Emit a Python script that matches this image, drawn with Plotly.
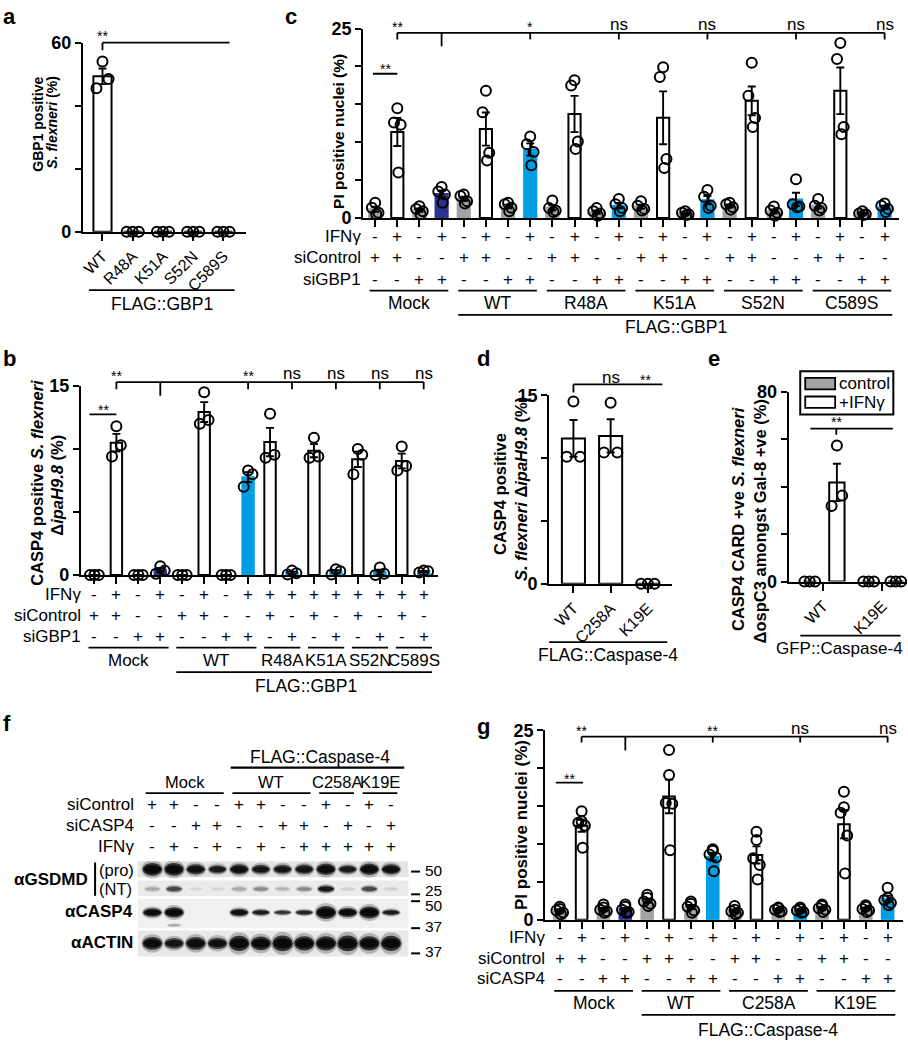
import numpy as np
import plotly.graph_objects as go

W, H = 908, 1050
FONT = "Liberation Sans, Arial, Helvetica, sans-serif"
GREY = "#a3a3a3"
DBLUE = "#2d3192"
LBLUE = "#009fe3"

# ---------------- data ----------------
# panel a
a_cats = ["WT", "R48A", "K51A", "S52N", "C589S"]
a_vals = [[54.0, 48.5, 45.5], [0, 0, 0], [0, 0, 0], [0, 0, 0], [0, 0, 0]]

# panel c
c_groups = ["Mock", "WT", "R48A", "K51A", "S52N", "C589S"]
c_group_sizes = [4, 4, 4, 4, 4, 4]
c_ifn = list("-+-+-+-+-+-+-+-+-+-+-+-+")
c_sictrl = list("++--++--++--++--++--++--")
c_sigbp1 = list("--++--++--++--++--++--++")
c_vals = [
    [2.0, 1.35, 0.7, 0.5], [14.5, 12.6, 12.3, 6.0], [1.55, 1.2, 0.9, 0.5], [4.1, 3.5, 3.1, 2.0],
    [3.1, 2.9, 2.2, 1.9], [16.8, 13.95, 8.6, 7.6], [2.0, 1.8, 1.35, 0.9], [10.75, 9.75, 8.7, 6.95],
    [2.3, 1.3, 1.0, 0.8], [18.2, 17.5, 10.1, 9.1], [1.3, 0.9, 0.6, 0.3], [2.5, 1.8, 1.3, 0.9],
    [2.2, 1.6, 1.2, 1.0], [19.9, 18.6, 7.8, 6.6], [0.9, 0.7, 0.5, 0.4], [3.7, 2.8, 1.6, 1.3],
    [2.0, 1.8, 1.4, 1.1], [20.5, 16.15, 13.2, 12.0], [1.5, 1.0, 0.7, 0.3], [5.1, 1.8, 1.5, 1.4],
    [2.5, 1.6, 1.3, 1.0], [23.1, 21.0, 12.0, 11.05], [0.9, 0.6, 0.5, 0.4], [1.9, 1.6, 1.2, 0.8],
]
c_sig = [(1, "**"), (7, "*"), (11, "ns"), (15, "ns"), (19, "ns"), (23, "ns")]

# panel b
b_groups = ["Mock", "WT", "R48A", "K51A", "S52N", "C589S"]
b_group_sizes = [4, 4, 2, 2, 2, 2]
b_ifn = list("-+-+-+-+++++++++")
b_sictrl = list("++--++--+-+-+-+-")
b_sigbp1 = list("--++--++-+-+-+-+")
b_vals = [
    [0, 0, 0], [11.8, 10.3, 9.4], [0, 0, 0], [0.7, 0.35, 0.1],
    [0, 0, 0], [14.5, 12.3, 12.0], [0, 0, 0], [8.3, 8.0, 7.0],
    [12.8, 9.55, 9.3], [0.35, 0.15, 0.05], [10.9, 9.4, 9.3], [0.45, 0.3, 0.05],
    [10.0, 9.55, 8.0], [0.6, 0.1, 0.0], [10.2, 8.65, 8.3], [0.35, 0.3, 0.2],
]
b_sig = [(1, "**"), (7, "**"), (9, "ns"), (11, "ns"), (13, "ns"), (15, "ns")]

# panel d
d_cats = ["WT", "C258A", "K19E"]
d_vals = [[14.5, 10.1, 10.1], [14.4, 10.45, 10.45], [0, 0, 0]]

# panel e
e_cats = ["WT", "K19E"]
e_series = ["control", "+IFNγ"]
e_control = [[0, 0, 0], [0, 0, 0]]
e_ifn = [[57.3, 36.2, 31.8], [0, 0, 0]]

# panel g
g_groups = ["Mock", "WT", "C258A", "K19E"]
g_group_sizes = [4, 4, 4, 4]
g_ifn = list("-+-+-+-+-+-+-+-+")
g_sictrl = list("++--++--++--++--")
g_sicasp4 = list("--++--++--++--++")
g_vals = [
    [1.7, 1.4, 1.2, 0.95, 0.7], [14.3, 13.0, 12.8, 12.4, 9.5], [2.0, 1.6, 1.3, 1.1, 0.9], [2.0, 1.7, 1.3, 1.0, 0.9],
    [3.3, 2.9, 2.4, 2.1, 1.8], [22.4, 19.1, 15.4, 15.3, 9.15], [2.4, 2.1, 1.7, 1.2, 0.9], [9.3, 9.1, 8.6, 8.2, 6.4],
    [1.8, 1.3, 1.1, 0.9, 0.7], [11.6, 10.5, 8.1, 7.2, 5.3], [1.6, 1.5, 1.3, 1.1, 1.0], [1.6, 1.4, 1.2, 1.0, 0.9],
    [2.0, 1.8, 1.5, 1.3, 1.0], [16.9, 14.85, 14.1, 11.1, 6.1], [1.9, 1.7, 1.4, 1.2, 1.0], [4.2, 2.9, 2.6, 2.2, 1.9],
]
g_sig = [(1, "**"), (7, "**"), (11, "ns"), (15, "ns")]

# panel f (western blot)
f_sictrl = list("++--++--+-+-")
f_sicasp4 = list("--++--++-+-+")
f_ifn = list("-+-+-+-+++++")
f_groups = ["Mock", "WT", "C258A", "K19E"]
f_group_sizes = [4, 4, 2, 2]
f_pro = [1.0, 1.0, 0.9, 0.8, 0.9, 0.85, 0.85, 0.85, 0.95, 0.8, 0.95, 0.9]
f_pro_size = [1.0, 1.0, 0.8, 0.65, 0.8, 0.7, 0.7, 0.75, 0.9, 0.65, 0.9, 0.8]
f_nt = [0.15, 0.5, 0.04, 0.04, 0.15, 0.25, 0.12, 0.25, 0.8, 0.06, 0.5, 0.06]
f_nt_size = [0.7, 0.8, 0.5, 0.5, 0.7, 0.7, 0.6, 0.7, 0.9, 0.5, 0.8, 0.5]
f_casp4 = [0.95, 1.0, 0, 0, 0.9, 0.75, 0.6, 0.7, 1.0, 0.95, 1.0, 0.75]
f_casp4_size = [0.8, 0.95, 0, 0, 0.7, 0.55, 0.45, 0.5, 1.2, 0.85, 1.1, 0.55]
f_actin = [0.95, 0.85, 0.95, 0.9, 1, 1, 1, 1, 1, 1, 1, 1]
f_actin_size = [0.85, 0.7, 0.85, 0.75, 1.0, 0.9, 1.05, 0.95, 0.95, 1.05, 0.95, 1.0]
f_marker_labels = ["50", "25", "50", "37", "37"]

# ---------------- helpers ----------------
fig = go.Figure()


def sfx(k):
    return "" if k == 1 else str(k)


def fx(p):
    return p / W


def fy(p):
    return 1 - p / H


def add_axes(k, xd, yd, xr, yr, ytv=None, ytt=None, xtv=None, xtt=None, yfs=18, xfs=16, show=True):
    s = sfx(k)
    fig.update_layout(**{
        f"xaxis{s}": dict(domain=[fx(xd[0]), fx(xd[1])], range=xr, anchor=f"y{s}",
                          showline=show, linecolor="black", linewidth=2,
                          ticks="outside" if show else "", ticklen=7, tickwidth=2, tickcolor="black",
                          tickmode="array", tickvals=xtv if xtv is not None else [], ticktext=xtt,
                          showticklabels=xtt is not None, tickangle=-45,
                          tickfont=dict(family=FONT, size=xfs, color="black"),
                          showgrid=False, zeroline=False, fixedrange=True),
        f"yaxis{s}": dict(domain=[fy(yd[1]), fy(yd[0])], range=yr, anchor=f"x{s}",
                          showline=show, linecolor="black", linewidth=2,
                          ticks="outside" if show else "", ticklen=6, tickwidth=2, tickcolor="black",
                          tickmode="array", tickvals=ytv if ytv is not None else [], ticktext=ytt,
                          showticklabels=show,
                          tickfont=dict(family=FONT, size=yfs, color="black", weight="bold"),
                          showgrid=False, zeroline=False, fixedrange=True),
    })


JIT = {3: [0.0, 0.2, -0.2], 4: [0.0, -0.15, 0.15, 0.05], 5: [0.0, 0.0, -0.15, 0.15, 0.05]}


def bar_panel(k, xs, vals, fills, width, jscale=1.0):
    s = sfx(k)
    means = [float(np.mean(v)) for v in vals]
    sems = [float(np.std(v, ddof=1) / np.sqrt(len(v))) for v in vals]
    lines = ["black" if f == "white" else f for f in fills]
    fig.add_trace(go.Bar(x=xs, y=means, width=width,
                         marker=dict(color=fills, line=dict(color=lines, width=2)),
                         error_y=dict(type="data", array=sems, visible=True, color="black",
                                      thickness=1.9, width=4),
                         xaxis=f"x{s}", yaxis=f"y{s}", showlegend=False, hoverinfo="skip"))
    pxs, pys = [], []
    for x, v in zip(xs, vals):
        jj = JIT[len(v)]
        for i, val in enumerate(v):
            pxs.append(x + jj[i] * jscale)
            pys.append(val)
    fig.add_trace(go.Scatter(x=pxs, y=pys, mode="markers",
                             marker=dict(symbol="circle-open", size=10, color="black", line=dict(width=2)),
                             cliponaxis=False, xaxis=f"x{s}", yaxis=f"y{s}",
                             showlegend=False, hoverinfo="skip"))


def T(text, x, y, size=16, bold=False, xanchor="center", yanchor="middle", xref="paper", yref="paper", angle=0):
    if xref == "paper":
        x = fx(x)
    if yref == "paper":
        y = fy(y)
    fig.add_annotation(text=f"<b>{text}</b>" if bold else text, x=x, y=y, xref=xref, yref=yref,
                       showarrow=False, xanchor=xanchor, yanchor=yanchor, textangle=angle,
                       borderpad=0, font=dict(family=FONT, size=size, color="black"))


def L(x0, y0, x1, y1, xref="paper", yref="paper", w=1.8):
    if xref == "paper":
        x0, x1 = fx(x0), fx(x1)
    if yref == "paper":
        y0, y1 = fy(y0), fy(y1)
    fig.add_shape(type="line", x0=x0, y0=y0, x1=x1, y1=y1, xref=xref, yref=yref,
                  line=dict(color="black", width=w))


def R(x0, y0, x1, y1, fill, lw=1.8, lc="black", xref="paper", yref="paper"):
    if xref == "paper":
        x0, x1 = fx(x0), fx(x1)
    if yref == "paper":
        y0, y1 = fy(y0), fy(y1)
    fig.add_shape(type="rect", x0=x0, y0=y0, x1=x1, y1=y1, xref=xref, yref=yref,
                  fillcolor=fill, line=dict(color=lc, width=lw))


def cond_fills(ifn, kd, sizes):
    grp = []
    for gi, n in enumerate(sizes):
        grp += [gi] * n
    out = []
    for i, (a, b) in enumerate(zip(ifn, kd)):
        if a == "-":
            out.append(GREY)
        elif b == "-":
            out.append("white")
        else:
            out.append(DBLUE if grp[i] == 0 else LBLUE)
    return out


def sign_rows(k, rows, ys, names, label_x, size=17, name_size=17):
    xa = f"x{sfx(k)}"
    for row, y, name in zip(rows, ys, names):
        T(name, label_x, y, size=name_size, xanchor="right")
        for i, sgn in enumerate(row):
            T(sgn, i, y, size=size, xref=xa)


def group_lines(k, groups, sizes, y_line, y_text, lo=0.25, hi=0.35, size=17.5):
    xa = f"x{sfx(k)}"
    start = 0
    spans = []
    for gname, n in zip(groups, sizes):
        a, b = start - lo, start + n - 1 + hi
        L(a, y_line, b, y_line, xref=xa)
        T(gname, (a + b) / 2, y_text, size=size, xref=xa)
        spans.append((a, b))
        start += n
    return spans


def brackets(k, sig, ref, y_line, y_tick, y_ref_tick, y_text_star, y_text_ns, x_end):
    xa = f"x{sfx(k)}"
    first = sig[0][0]
    L(first, y_line, x_end, y_line, xref=xa)
    L(ref, y_line, ref, y_ref_tick, xref=xa)
    for i, lab in sig:
        L(i, y_line, i, y_tick, xref=xa)
        T(lab, i, y_text_ns if lab == "ns" else y_text_star, size=17 if lab == "ns" else 14, xref=xa)


# ---------------- panel a ----------------
add_axes(1, (81, 245), (33.3, 226), [-0.65, 4.76], [0, 60], [0, 20, 40, 60], ["0", "", "", "60"],
         list(range(5)), a_cats)
bar_panel(1, list(range(5)), a_vals, ["white"] * 5, 0.6)
T("<b>GBP1 positive</b>", 36, 116, size=14, angle=-90)
T("<b><i>S. flexneri</i> (%)</b>", 50, 114, size=14, angle=-90)
L(0, 33.3, 4.2, 33.3, xref="x")
L(0, 33.3, 0, 41, xref="x")
T("**", 0, 27, size=14, xref="x")
L(-0.45, 285.5, 4.37, 285.5, xref="x")
T("FLAG::GBP1", 160, 299.5, size=17.5)
T("<b>a</b>", 0, 7, size=22, xanchor="left")

# ---------------- panel c ----------------
add_axes(2, (362, 899), (19, 212), [-0.54, 23.65], [0, 25], [0, 5, 10, 15, 20, 25],
         ["0", "", "", "", "", "25"], list(range(24)), None)
bar_panel(2, list(range(24)), c_vals, cond_fills(c_ifn, c_sigbp1, c_group_sizes), 0.55, jscale=1.0)
T("<b>PI positive nuclei (%)</b>", 337, 124, size=15.5, angle=-90)
brackets(2, c_sig, 3, 23.3, 30, 37, 17, 15, 23)
L(-0.1, 65, 1, 65, xref="x2")
T("**", 0.45, 60, size=14, xref="x2")
sign_rows(2, [c_ifn, c_sictrl, c_sigbp1], [231, 252.3, 274.5], ["IFNγ", "siControl", "siGBP1"], 361)
sp = group_lines(2, c_groups, c_group_sizes, 286, 298.5, lo=0.25, hi=0.3)
L(sp[1][0], 310.7, 23.35, 310.7, xref="x2")
T("FLAG::GBP1", 675, 323.5, size=17.5)
T("<b>c</b>", 283, 7, size=22, xanchor="left")

# ---------------- panel b ----------------
add_axes(3, (79, 436.7), (383.3, 576), [-0.62, 15.64], [0, 15], [0, 5, 10, 15], ["0", "", "", "15"],
         list(range(16)), None)
bar_panel(3, list(range(16)), b_vals, cond_fills(b_ifn, b_sigbp1, b_group_sizes), 0.52)
T("<b>CASP4 positive <i>S. flexneri</i></b>", 35, 482, size=16.5, angle=-90)
T("<b>Δ<i>ipaH9.8</i> (%)</b>", 55, 484, size=16.5, angle=-90)
brackets(3, b_sig, 3, 379.3, 386.7, 393.3, 373.5, 371, 15)
L(-0.23, 412.3, 1, 412.3, xref="x3")
T("**", 0.4, 407.5, size=14, xref="x3")
sign_rows(3, [b_ifn, b_sictrl, b_sigbp1], [596, 617.7, 638.3], ["IFNγ", "siControl", "siGBP1"], 80)
sp = group_lines(3, b_groups, b_group_sizes, 650, 663.3, lo=0.27, hi=0.38, size=17)
L(sp[1][0], 675, sp[-1][1], 675, xref="x3")
T("FLAG::GBP1", 305, 689, size=17.5)
T("<b>b</b>", 0, 355, size=22, xanchor="left")

# ---------------- panel d ----------------
add_axes(4, (548.3, 671.7), (392.7, 585), [-0.654, 2.655], [0, 15], [0, 5, 10, 15], ["0", "", "", "15"],
         list(range(3)), d_cats)
bar_panel(4, list(range(3)), d_vals, ["white"] * 3, 0.62, jscale=0.9)
T("<b>CASP4 positive</b>", 498.5, 493, size=16.5, angle=-90)
T("<b><i>S. flexneri</i> Δ<i>ipaH9.8</i> (%)</b>", 519.5, 488, size=16.5, angle=-90)
L(0, 381.7, 2.39, 381.7, xref="x4")
L(0, 381.7, 0, 390, xref="x4")
T("ns", 1.02, 375, size=17, xref="x4")
T("**", 1.94, 377.5, size=14, xref="x4")
L(-0.67, 644.3, 2.52, 644.3, xref="x4")
T("FLAG::Caspase-4", 607, 657.5, size=17.5)
T("<b>d</b>", 475, 355, size=22, xanchor="left")

# ---------------- panel e ----------------
add_axes(5, (788.3, 907), (389, 582.7), [-0.59, 1.42], [0, 80], [0, 20, 40, 60, 80], ["0", "", "", "", "80"],
         [0, 1], e_cats)
e_x, e_v, e_f = [], [], []
for gi in range(len(e_cats)):
    e_x += [gi - 0.23, gi + 0.23]
    e_v += [e_control[gi], e_ifn[gi]]
    e_f += [GREY, "white"]
bar_panel(5, e_x, e_v, e_f, 0.26, jscale=0.45)
T("<b>CASP4 CARD +ve <i>S. flexneri</i></b>", 737, 518.5, size=16.5, angle=-90)
T("<b>ΔospC3 amongst Gal-8 +ve (%)</b>", 760, 521, size=16.5, angle=-90)
L(-0.22, 426.7, 1.18, 426.7, xref="x5")
L(0.22, 426.7, 0.22, 433, xref="x5")
T("**", 0.22, 420.5, size=14, xref="x5")
L(-0.39, 637.7, 1.31, 637.7, xref="x5")
T("GFP::Caspase-4", 839, 650.5, size=17)
# legend
R(800, 368.3, 893.3, 412.3, "white", lw=2)
R(805, 375, 835, 386.7, GREY)
R(805, 394, 835, 405.7, "white")
T(e_series[0], 838, 381, size=17, xanchor="left")
T(e_series[1], 838, 400, size=17, xanchor="left")
T("<b>e</b>", 707, 355, size=22, xanchor="left")

# ---------------- panel g ----------------
add_axes(6, (544.3, 902.7), (734.3, 927.3), [-0.67, 15.69], [0, 25], [0, 5, 10, 15, 20, 25],
         ["0", "", "", "", "", "25"], list(range(16)), None)
bar_panel(6, list(range(16)), g_vals, cond_fills(g_ifn, g_sicasp4, g_group_sizes), 0.53)
T("<b>PI positive nuclei (%)</b>", 520, 831, size=17, angle=-90)
brackets(6, g_sig, 3, 740.7, 746.7, 755, 734.8, 732.5, 15)
L(-0.18, 787.7, 1.06, 787.7, xref="x6")
T("**", 0.45, 783.5, size=14, xref="x6")
sign_rows(6, [g_ifn, g_sictrl, g_sicasp4], [946, 967.3, 987.7], ["IFNγ", "siControl", "siCASP4"], 545)
sp = group_lines(6, g_groups, g_group_sizes, 1000, 1012.7, lo=0.25, hi=0.35)
L(sp[1][0], 1024.3, sp[-1][1], 1024.3, xref="x6")
T("FLAG::Caspase-4", 768, 1040, size=17.5)
T("<b>g</b>", 475, 730, size=22, xanchor="left")

# ---------------- panel f (blot) ----------------
FX0, FX1 = 136, 407.3
f_range = [-0.676, 11.8]
fig.update_layout(
    xaxis7=dict(domain=[fx(FX0), fx(FX1)], range=f_range, anchor="y7", visible=False, fixedrange=True),
    yaxis7=dict(domain=[fy(965), fy(867.7)], range=[965, 867.7], anchor="x7", visible=False, fixedrange=True),
)
LANE_PX = (FX1 - FX0) / (f_range[1] - f_range[0])
strips = [(867.7, 884, "#e4e4e4"), (887.3, 903.3, "#ebebeb"), (906, 936, "#f0f0f0"), (938.3, 965, "#e8e8e8")]
for y0, y1, c in strips:
    R(FX0, y0, FX1, y1, c, lw=0, lc=c)


def band(lane, cy, w, h, inten):
    if inten <= 0:
        return
    hw = w / 2 / LANE_PX
    for sw, sh, a in [(1.12, 1.45, 0.25), (1.0, 1.0, 0.75), (0.88, 0.65, 1.0)]:
        fig.add_shape(type="circle", xref="x7", yref="y7",
                      x0=lane - hw * sw, x1=lane + hw * sw,
                      y0=cy - h * sh / 2, y1=cy + h * sh / 2,
                      fillcolor=f"rgba(10,10,10,{min(1.0, a * inten):.3f})", line=dict(width=0))


for lane in range(12):
    band(lane, 876, 19.5 * (0.8 + 0.2 * f_pro_size[lane]), 13 * f_pro_size[lane], f_pro[lane])
    band(lane, 896, 17 * (0.8 + 0.2 * f_nt_size[lane]), 8 * f_nt_size[lane], f_nt[lane])
    band(lane, 920, 19.5 * (0.8 + 0.2 * f_casp4_size[lane]), 11 * f_casp4_size[lane], f_casp4[lane])
    band(lane, 951.5, 20.5 * (0.8 + 0.2 * f_actin_size[lane]), 15.5 * f_actin_size[lane], f_actin[lane])
band(1, 933, 14, 3, 0.18)

sign_rows(7, [f_sictrl, f_sicasp4, f_ifn], [810, 831.7, 852.3], ["siControl", "siCASP4", "IFNγ"], 133)
start = 0
for gname, n in zip(f_groups, f_group_sizes):
    a, b = start - 0.31, start + n - 1 + 0.29
    L(a, 798.3, b, 798.3, xref="x7")
    T(gname, (a + b) / 2, 786.7, size=16.5, xref="x7")
    start += n
L(3.61, 772.3, 11.61, 772.3, xref="x7", w=2.2)
T("FLAG::Caspase-4", 318.3, 761.5, size=17.5)
T("<b>αGSDMD</b>", 87, 886, size=17, xanchor="right")
L(93.3, 869, 93.3, 903, w=2)
T("(pro)", 96, 876.5, size=16.5, xanchor="left")
T("(NT)", 96, 896.5, size=16.5, xanchor="left")
T("<b>αCASP4</b>", 132.7, 919.3, size=17, xanchor="right")
T("<b>αACTIN</b>", 132.7, 950.7, size=17, xanchor="right")
for yy in [878.3, 901.5, 908.5, 936, 961.7]:
    L(410, yy, 419, yy, w=2)
for lab, yy in zip(f_marker_labels, [877, 897.5, 913, 934.3, 959.3]):
    T(lab, 423, yy, size=15.5, xanchor="left")
T("<b>f</b>", 0, 727, size=22, xanchor="left")

fig.update_layout(width=W, height=H, margin=dict(l=0, r=0, t=0, b=0),
                  paper_bgcolor="white", plot_bgcolor="white", barmode="overlay",
                  showlegend=False, hovermode=False, font=dict(family=FONT, color="black"))

fig.write_html("out.html", config={"displayModeBar": False},
               post_script="document.body.style.margin='0px';document.body.style.overflow='hidden';")
